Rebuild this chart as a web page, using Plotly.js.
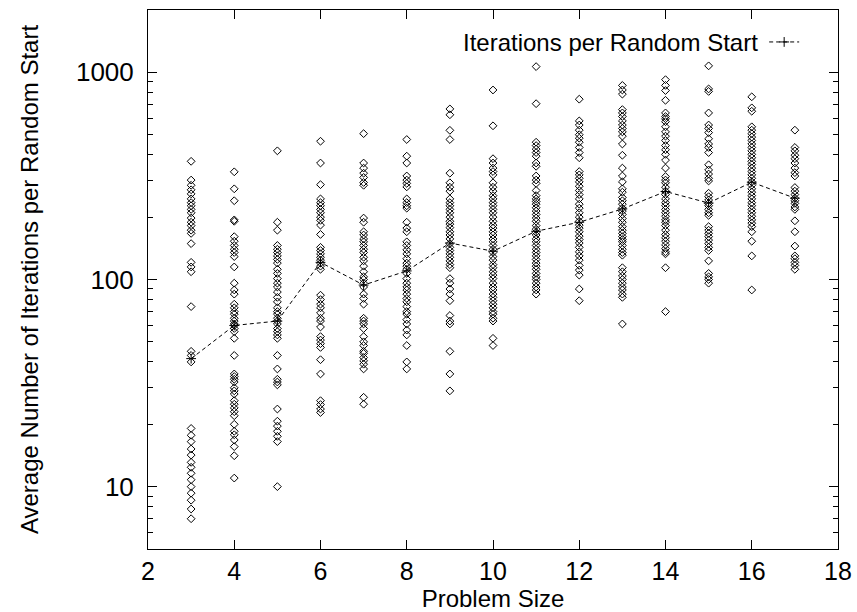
<!DOCTYPE html>
<html>
<head>
<meta charset="utf-8">
<script src="https://cdn.plot.ly/plotly-3.0.1.min.js"></script>
<style>html,body{margin:0;padding:0;background:#fff;}#chart{width:857px;height:612px;}</style>
</head>
<body>
<div id="chart"></div>
<script>
// Problem sizes (x positions of the columns)
const problemSizes = [3,4,5,6,7,8,9,10,11,12,13,14,15,16,17];

// Average number of iterations per random start, one array per problem size
const iter3  = [372,302,285,271,259,245,235,227,218,210,198,189,182,173,167,149,121,115,109,74,45,43,40,19.1,17.7,16.5,15.2,14.2,13.1,12.4,11.6,10.8,10.0,9.3,8.6,7.8,7.0];
const iter4  = [331,274,240,194,191,161,153,146,140,135,129,115,96,89,85,76,73,70,68,65,63,61,60,58,56,52,43,35,34,33,32,30,29,28,26,25,24,23,22,20,18.5,17.8,16.8,15.6,14.1,11.0];
const iter5  = [418,189,173,146,140,135,130,125,120,112,107,101,96,92,87,82,78,73,70,68,65,63,61,58,56,54,52,43,37,33,32,31,23.7,20.7,19.6,18.5,17.5,16.5,10.0];
const iter6  = [465,365,287,245,235,227,218,210,200,193,183,165,143,138,133,128,124,120,116,112,84,80,76,73,69,65,63,59,53,51,49,47,41,35,26,24.9,23.7,22.8];
const iter7  = [506,365,345,326,311,294,285,198,189,170,164,157,152,146,140,135,128,123,116,109,103,100,96,92,85,81,76,65,63,61,58,53,50,48,45,44,42,40.5,39,37,27,25];
const iter8  = [474,394,365,316,302,291,280,245,235,227,221,189,177,170,152,146,139,133,126,120,116,112,107,101,96,92,89,85,81,78,74,70,68,64,61,57,54,48,40,37];
const iter9  = [666,624,525,474,326,293,279,267,245,235,227,218,210,200,191,185,178,170,164,157,149,143,138,133,128,123,118,114,101,96,90,85,79,67,63,61,45,35,29];
const iter10 = [822,552,383,365,345,332,320,293,279,267,254,245,235,227,218,210,200,191,183,177,170,164,157,152,146,140,135,129,124,118,114,109,105,101,96,92,89,85,82,79,76,73,70,68,65,63,52,48];
const iter11 = [1066,706,460,443,426,410,394,365,352,316,302,291,269,254,245,238,231,222,214,206,198,191,182,175,169,164,157,152,146,140,135,130,125,120,116,112,107,103,100,96,92,89,85];
const iter12 = [742,583,557,526,500,481,460,434,410,387,332,320,308,296,282,269,257,245,231,221,210,200,191,183,177,170,162,156,150,143,136,130,124,117,111,105,90,79];
const iter13 = [865,822,785,661,637,612,583,557,536,516,492,451,398,345,316,296,274,264,249,240,231,221,214,206,197,189,180,173,167,161,156,152,146,140,135,131,114,109,104,100,96,92,89,85,82,61];
const iter14 = [922,865,817,733,637,612,597,578,546,516,492,469,443,423,402,377,345,314,302,293,279,267,257,245,235,227,218,210,202,194,189,182,173,165,159,153,147,141,136,133,114,70];
const iter15 = [1075,832,809,637,557,536,512,478,451,434,410,358,338,323,308,299,261,251,242,233,227,218,210,204,180,173,167,161,155,149,143,138,123,107,103,100,96];
const iter16 = [762,674,649,546,526,506,487,469,451,434,418,402,387,372,359,345,332,320,308,296,285,274,264,254,245,235,227,218,210,202,194,187,180,170,153,130,89];
const iter17 = [526,434,418,398,383,365,345,328,316,278,267,257,247,240,233,224,218,192,170,145,130,126,121,117,112];

// Line: iterations per random start (mean per problem size)
const meanIter = [41.5,60,63,121,94,110,150,137,171,189,219,266,234,295,247];

// Axis tick labels
const yTickVals = [10,100,1000];
const yTickText = ['10','100','1000'];
const xTickVals = [2,4,6,8,10,12,14,16,18];

const allCols = [iter3,iter4,iter5,iter6,iter7,iter8,iter9,iter10,iter11,iter12,iter13,iter14,iter15,iter16,iter17];
const scatX = [], scatY = [];
allCols.forEach((col, i) => { col.forEach(v => { scatX.push(problemSizes[i]); scatY.push(v); }); });

// minor tick positions for log axis (2..9 per decade)
const minorVals = [];
[1,10,100,1000].forEach(d => { for (let k = 2; k <= 9; k++) minorVals.push(k*d); });

const FONT = 'Liberation Sans, Arial, Helvetica, sans-serif';

const traces = [
  {
    x: scatX, y: scatY, type: 'scatter', mode: 'markers',
    marker: {symbol: 'diamond-open', size: 6, color: '#000', line: {width: 1, color: '#000'}},
    showlegend: false, hoverinfo: 'x+y'
  },
  {
    x: problemSizes, y: meanIter, type: 'scatter', mode: 'lines+markers',
    name: ' ',
    line: {color: '#000', width: 1, dash: '4px,3px'},
    marker: {symbol: 'cross-thin', size: 7, color: '#000', line: {width: 1, color: '#000'}},
    showlegend: true
  }
];

const layout = {
  width: 857, height: 612,
  margin: {l: 148, r: 19, t: 10, b: 63, pad: 0},
  paper_bgcolor: '#fff', plot_bgcolor: '#fff',
  font: {family: FONT, size: 24, color: '#000'},
  showlegend: true,
  legend: {x: 0.893, xanchor: 'left', y: 0.94, yanchor: 'middle', bgcolor: 'rgba(0,0,0,0)', borderwidth: 0, font: {size: 24}, itemwidth: 30},
  xaxis: {
    range: [2, 18], tickmode: 'array', tickvals: xTickVals,
    ticks: 'inside', ticklen: 9, tickwidth: 1, tickcolor: '#000',
    showline: true, linecolor: '#000', linewidth: 1, mirror: 'ticks',
    showgrid: false, zeroline: false,
    tickfont: {size: 25, family: FONT},
    ticklabelstandoff: 0,
    title: {text: 'Problem Size', font: {size: 24, family: FONT}, standoff: 1}
  },
  yaxis: {
    type: 'log', range: [Math.log10(5), Math.log10(2000)],
    tickmode: 'array', tickvals: yTickVals, ticktext: yTickText,
    ticks: 'inside', ticklen: 9, tickwidth: 1, tickcolor: '#000',
    minor: {tickmode: 'array', tickvals: minorVals, ticks: 'inside', ticklen: 5, tickwidth: 1, tickcolor: '#000', showgrid: false},
    showline: true, linecolor: '#000', linewidth: 1, mirror: 'ticks',
    showgrid: false, zeroline: false,
    tickfont: {size: 26, family: FONT},
    ticklabelstandoff: 8,
    title: {text: 'Average Number of Iterations per Random Start', font: {size: 24, family: FONT}, standoff: 30}
  },
  annotations: [
    {xref: 'paper', yref: 'paper', x: 0.887, y: 0.94, xanchor: 'right', yanchor: 'middle',
     text: 'Iterations per Random Start', showarrow: false, font: {size: 24, family: FONT}}
  ]
};

Plotly.newPlot('chart', traces, layout, {displayModeBar: false, staticPlot: true});
</script>
</body>
</html>
